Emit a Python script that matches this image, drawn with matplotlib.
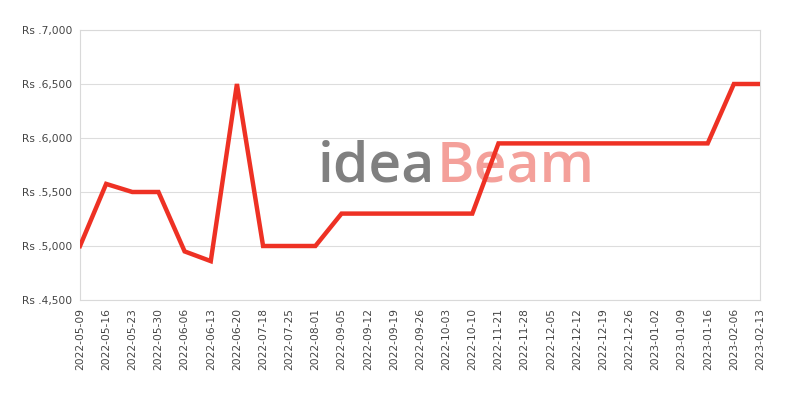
import matplotlib
matplotlib.use('Agg')
import matplotlib.pyplot as plt
import matplotlib.ticker as mticker


dates = [
    '2022-05-09', '2022-05-16', '2022-05-23', '2022-05-30', '2022-06-06',
    '2022-06-13', '2022-06-20', '2022-07-18', '2022-07-25', '2022-08-01',
    '2022-09-05', '2022-09-12', '2022-09-19', '2022-09-26', '2022-10-03',
    '2022-10-10', '2022-11-21', '2022-11-28', '2022-12-05', '2022-12-12',
    '2022-12-19', '2022-12-26', '2023-01-02', '2023-01-09', '2023-01-16',
    '2023-02-06', '2023-02-13',
]
prices = [
    5000, 5575, 5500, 5500, 4950,
    4860, 6500, 5000, 5000, 5000,
    5300, 5300, 5300, 5300, 5300,
    5300, 5950, 5950, 5950, 5950,
    5950, 5950, 5950, 5950, 5950,
    6500, 6500,
]
y_ticks = [4500, 5000, 5500, 6000, 6500, 7000]


def rs_format(value, pos):
    return 'Rs .{:,.0f}'.format(value)


def main():
    fig = plt.figure(figsize=(8, 4), dpi=100)
    fig.subplots_adjust(left=0.1, right=0.95, top=0.925, bottom=0.25)
    ax = fig.add_subplot(1, 1, 1)

    # watermark
    ax.text(0.522, 0.49, 'idea', transform=ax.transAxes, fontsize=41,
            family='Open Sans', weight='semibold', color='#808080',
            ha='right', va='center', zorder=0)
    ax.text(0.525, 0.49, 'Beam', transform=ax.transAxes, fontsize=41,
            family='Open Sans', weight='semibold', color='#f4a09a',
            ha='left', va='center', zorder=0)

    x = list(range(len(dates)))
    ax.plot(x, prices, color='#ee3124', linewidth=3.2, solid_joinstyle='miter', zorder=3)

    ax.set_xlim(0, len(dates) - 1)
    ax.set_ylim(4500, 7000)
    ax.set_yticks(y_ticks)
    ax.yaxis.set_major_formatter(mticker.FuncFormatter(rs_format))
    ax.set_xticks(x)
    ax.set_xticklabels(dates, rotation=90)

    ax.grid(axis='y', color='#dddddd', linewidth=0.8)
    ax.set_axisbelow(True)
    for spine in ax.spines.values():
        spine.set_color('#d9d9d9')
    ax.tick_params(axis='both', length=0, labelsize=7.7, labelcolor='#444444')
    ax.tick_params(axis='y', pad=5.5)
    ax.tick_params(axis='x', pad=6)

    fig.savefig('out.png')


if __name__ == '__main__':
    main()
